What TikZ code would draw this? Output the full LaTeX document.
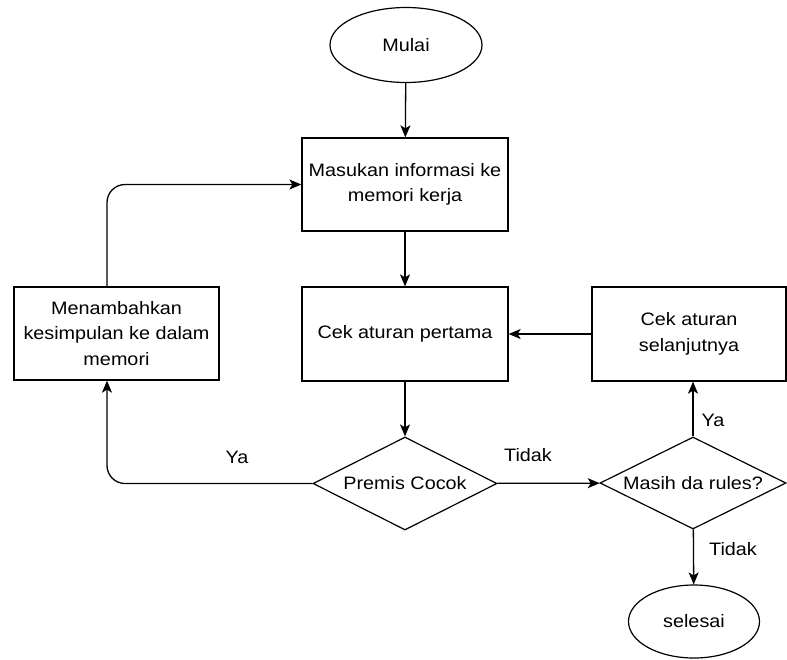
\documentclass[tikz,border=0pt]{standalone}
\usepackage{fontspec}
\setmainfont[FakeStretch=1.1]{Liberation Sans}
\usetikzlibrary{shapes.geometric,arrows.meta}
\begin{document}
\begin{tikzpicture}[x=1pt,y=-1pt,
  every node/.style={font=\fontsize{18}{25.5}\selectfont},
  boxnode/.style={draw,line width=1.3pt,rectangle,inner sep=0pt,align=center},
  termnode/.style={draw,line width=1.2pt,ellipse,inner sep=0pt},
  decnode/.style={draw,line width=1.2pt,diamond,aspect=2,inner sep=0pt},
  conn/.style={line width=1.3pt,-{Stealth[length=12pt,width=10pt,inset=3pt]}},
  lbl/.style={inner sep=0pt}]
\useasboundingbox (0,0) rectangle (787,659);
\node[termnode,minimum width=152pt,minimum height=75pt] (mulai) at (406,45) {Mulai};
\node[boxnode,minimum width=206pt,minimum height=93pt] (b1) at (405,184.5) {Masukan informasi ke\\memori kerja};
\node[boxnode,minimum width=206pt,minimum height=94pt] (b2) at (405,334) {Cek aturan pertama};
\node[decnode,minimum width=184pt,minimum height=93pt] (prem) at (405,483.5) {Premis Cocok};
\node[boxnode,minimum width=205pt,minimum height=93pt] (left) at (116.5,333.5) {Menambahkan\\kesimpulan ke dalam\\memori};
\node[boxnode,minimum width=194pt,minimum height=94pt] (right) at (689,334) {Cek aturan\\selanjutnya};
\node[decnode,minimum width=186pt,minimum height=92pt] (masih) at (693,483) {Masih da rules?};
\node[termnode,minimum width=131pt,minimum height=73pt] (selesai) at (694,621.5) {selesai};

\draw[conn] (mulai) -- (b1);
\draw[conn] (b1) -- (b2);
\draw[conn] (b2) -- (prem);
\draw[conn] (right) -- (b2);
\draw[conn] (prem) -- (masih);
\draw[conn] (masih.north) -- (right.south -| masih.north);
\draw[conn] (masih) -- (selesai);
\coordinate (lc) at (107,483.5);
\draw[conn,rounded corners=18pt] (prem.west) -- (lc) -- (lc |- left.south);
\draw[conn,rounded corners=18pt] (lc |- left.north) |- (b1.west);

\node[lbl] (ya1) at (237,457) {Ya};
\node[lbl] (td1) at (528,455) {Tidak};
\node[lbl] (ya2) at (713,420) {Ya};
\node[lbl] (td2) at (733,549) {Tidak};
\end{tikzpicture}
\end{document}
